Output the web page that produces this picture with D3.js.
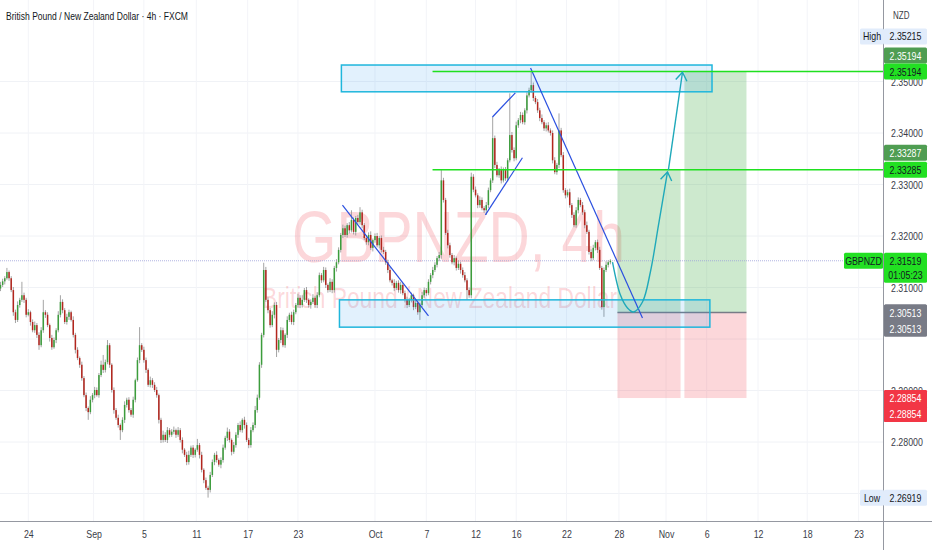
<!DOCTYPE html>
<html>
<head>
<meta charset="utf-8">
<script src="https://cdn.jsdelivr.net/npm/d3@7"></script>
<style>
  html, body { margin: 0; padding: 0; background: #fff; }
  svg { display: block; }
  text { font-family: "Liberation Sans", Arial, sans-serif; }
</style>
</head>
<body>
<div class="canvas"></div>
<script>
// ---- data (4h bars) ----
const firstOpen = 2.3098;
const closes = [
  2.3105,2.3112,2.3118,2.3130,2.3118,2.3095,2.3052,2.3037,2.3066,2.3076,
  2.3085,2.3076,2.3047,2.3052,2.3033,2.3017,2.3027,2.3008,2.2988,2.3017,
  2.3052,2.3047,2.3027,2.3002,2.2984,2.2998,2.3017,2.3047,2.3072,2.3056,
  2.3033,2.3043,2.3052,2.3037,2.3008,2.2979,2.2963,2.2950,2.2924,2.2891,
  2.2866,2.2858,2.2882,2.2891,2.2901,2.2891,2.2930,2.2950,2.2940,2.2955,
  2.2988,2.2950,2.2901,2.2862,2.2847,2.2833,2.2823,2.2843,2.2872,2.2882,
  2.2862,2.2853,2.2882,2.2920,2.2959,2.2988,2.2979,2.2959,2.2940,2.2911,
  2.2920,2.2911,2.2901,2.2891,2.2843,2.2804,2.2814,2.2804,2.2823,2.2814,
  2.2820,2.2823,2.2814,2.2823,2.2804,2.2785,2.2775,2.2761,2.2775,2.2789,
  2.2775,2.2785,2.2794,2.2775,2.2746,2.2726,2.2711,2.2707,2.2736,2.2761,
  2.2775,2.2765,2.2756,2.2765,2.2789,2.2808,2.2820,2.2804,2.2781,2.2794,
  2.2814,2.2833,2.2823,2.2843,2.2833,2.2804,2.2794,2.2823,2.2833,2.2862,
  2.2886,2.2950,2.3008,2.3134,2.3076,2.3056,2.3027,2.3047,2.3066,2.2979,
  2.2998,2.3017,2.2988,2.3008,2.3037,2.3047,2.3033,2.3052,2.3066,2.3080,
  2.3066,2.3076,2.3095,2.3076,2.3066,2.3072,2.3080,2.3066,2.3085,2.3124,
  2.3114,2.3134,2.3105,2.3095,2.3111,2.3095,2.3138,2.3149,2.3173,2.3202,
  2.3215,2.3202,2.3221,2.3211,2.3231,2.3208,2.3235,2.3227,2.3246,2.3221,
  2.3196,2.3188,2.3202,2.3177,2.3192,2.3200,2.3182,2.3196,2.3173,2.3169,
  2.3149,2.3134,2.3114,2.3109,2.3099,2.3109,2.3095,2.3105,2.3089,2.3076,
  2.3066,2.3076,2.3085,2.3062,2.3070,2.3052,2.3066,2.3085,2.3095,2.3089,
  2.3111,2.3124,2.3134,2.3144,2.3157,2.3163,2.3308,2.3270,2.3206,2.3182,
  2.3163,2.3149,2.3157,2.3138,2.3146,2.3134,2.3124,2.3114,2.3095,2.3085,
  2.3315,2.3290,2.3279,2.3260,2.3270,2.3254,2.3250,2.3260,2.3289,2.3308,
  2.3390,2.3338,2.3318,2.3328,2.3308,2.3328,2.3312,2.3347,2.3396,2.3367,
  2.3351,2.3415,2.3425,2.3435,2.3421,2.3444,2.3473,2.3483,2.3493,2.3468,
  2.3460,2.3444,2.3429,2.3421,2.3409,2.3415,2.3405,2.3400,2.3347,2.3324,
  2.3338,2.3405,2.3357,2.3289,2.3279,2.3285,2.3260,2.3241,2.3221,2.3250,
  2.3270,2.3260,2.3246,2.3221,2.3208,2.3169,2.3157,2.3177,2.3188,2.3173,
  2.3138,2.3062,2.3134,2.3144,2.3149,2.3152
];
// wick lengths above / below the body, in pips
const wickHi = [
  6,5,4,8,3,4,6,5,7,4, 26,5,4,6,3,5,7,4,5,6, 24,4,5,3,6,5,4,7,13,5,
  4,6,5,3,7,4,5,3,6,4, 5,3,7,4,6,5,4,8,19,5, 10,4,3,5,4,6,3,5,7,4,
  5,4,6,3,5,35,4,6,5,3, 7,4,5,6,3,4,8,5,6,4, 5,7,3,6,4,5,3,6,8,4,
  5,3,12,4,6,3,5,4,6,5, 4,7,3,5,6,4,8,5,3,6, 5,4,7,3,6,5,4,6,5,8,
  6,5,4,14,6,5,4,7,5,6, 4,6,5,3,7,4,6,5,4,8, 5,9,4,6,3,5,7,4,6,5,
  4,6,5,3,7,5,4,6,5,4, 7,5,4,6,19,5,4,6,10,5, 4,6,5,7,3,5,6,4,5,6,
  4,5,6,3,7,4,5,6,4,5, 6,4,5,3,7,5,4,6,5,4, 5,4,6,5,4,6,20,5,4,6,
  5,4,6,3,7,4,5,6,4,5, 8,5,6,4,7,5,4,6,5,4, 41,5,6,4,7,5,6,4,81,6,
  5,7,4,6,5,4,6,5,28,5, 4,6,5,7,4,5,6,4,5,6, 4,33,5,6,4,5,7,4,5,6,
  5,4,6,5,7,4,5,6,4,5, 6,4,5,7,4,3
];
const wickLo = [
  5,4,6,3,5,4,7,6,4,5, 4,6,5,3,7,4,5,6,9,4, 5,6,4,7,5,3,6,4,5,6,
  4,5,6,3,5,7,4,6,5,4, 6,15,4,5,6,3,5,4,6,5, 4,6,5,7,4,5,19,4,6,5,
  5,4,6,5,3,6,4,5,6,4, 5,6,4,5,7,6,5,4,6,5, 4,5,6,4,5,7,4,6,5,4,
  6,5,4,7,5,6,4,15,5,4, 6,5,4,7,5,4,6,5,7,4, 5,6,4,5,7,4,6,5,4,6,
  5,4,6,5,4,6,5,4,7,14, 5,6,4,5,6,4,5,6,4,5, 6,5,4,6,5,7,4,5,6,4,
  5,4,6,5,4,6,5,7,4,5, 6,4,5,6,4,5,7,4,5,6, 4,5,6,4,7,5,4,6,5,4,
  5,6,4,5,6,4,5,7,4,5, 6,4,5,6,4,5,15,4,5,6, 4,5,6,4,5,6,7,5,4,6,
  5,4,6,5,4,7,5,4,19,5, 6,5,4,6,5,4,5,9,6,4, 5,6,4,5,6,4,5,6,4,5,
  6,4,5,6,4,5,6,4,5,6, 4,5,6,4,5,6,4,5,6,4, 5,6,4,5,6,4,5,6,4,5,
  6,4,5,6,4,5,6,4,5,6, 4,5,19,4,5,4
];

// 2.27000 and 2.30000 sit under the Low / entry tags, so they are not written
const priceTicks = [2.28, 2.29, 2.31, 2.32, 2.33, 2.34, 2.35];
const gridTicks = [2.27, 2.28, 2.29, 2.30, 2.31, 2.32, 2.33, 2.34, 2.35];
const timeLabels = ["24","Sep","5","11","17","23","Oct","7","12","16","22","28","Nov","6","12","18","23"];
const timeBars   = [13, 43.5, 67, 91.5, 115.5, 139, 175, 199, 222, 241, 264.5, 289, 311, 330, 354, 377, 401];

// drawings, in bar index / price
const zones = [
  { b0: 159.3, b1: 332.5, top: 2.3532, bottom: 2.3480 },
  { b0: 158.4, b1: 331.5, top: 2.3076, bottom: 2.3023 }
];
const levelStart = 201.9;
const levels = [2.35194, 2.33285];
const trendLines = [
  [159.8, 2.3260, 200.0, 2.3045],
  [247.7, 2.3526, 300.0, 2.3041],
  [229.9, 2.3431, 240.6, 2.3478],
  [226.6, 2.3241, 243.9, 2.3352]
];
const entryPrice = 2.30513, stopPrice = 2.28854;
const positionCols = [
  { b0: 288.3, b1: 317.8, target: 2.33285 },
  { b0: 319.6, b1: 348.6, target: 2.35194 }
];
const pathBars   = [286.0, 289.7, 293.0, 295.8, 300.0, 303.7, 307.5, 311.7];
const pathPrices = [2.31495, 2.30854, 2.30602, 2.30524, 2.30718, 2.31301, 2.32214, 2.33243];
const arrow2 = [312.1, 2.3328, 318.7, 2.3518];

const lastPrice = 2.31519;
const highPrice = 2.35215, lowPrice = 2.26919;

// ---- layout ----
const W = 932, H = 550;
const plotRight = 883, plotBottom = 521;
const green = "#3c9d3c", red = "#b3261e", wick = "#9a9a9a";

// squeeze a text horizontally (the chart uses a condensed face)
function narrow(sel, f) {
  sel.each(function () {
    const w = this.getComputedTextLength();
    d3.select(this).attr("textLength", w * f).attr("lengthAdjust", "spacingAndGlyphs");
  });
}

const svg = d3.select(".canvas").append("svg").attr("width", W).attr("height", H);
svg.append("rect").attr("width", W).attr("height", H).attr("fill", "#fff");

const x = d3.scaleLinear().domain([0, 411]).range([0.5, 880]);
const y = d3.scaleLinear().domain([2.27, 2.35]).range([493.5, 81.5]);

const bars = closes.map((c, i) => {
  const o = i === 0 ? firstOpen : closes[i - 1];
  return {
    i, o, c,
    h: Math.max(o, c) + wickHi[i] / 10000,
    l: Math.min(o, c) - wickLo[i] / 10000
  };
});

svg.append("clipPath").attr("id", "plot")
  .append("rect").attr("width", plotRight).attr("height", plotBottom);

const chart = svg.append("g").attr("clip-path", "url(#plot)");

// grid
chart.selectAll(".hgrid").data(gridTicks).enter().append("line")
  .attr("x1", 0).attr("x2", plotRight)
  .attr("y1", d => y(d)).attr("y2", d => y(d))
  .attr("stroke", "#f0f2f6");
chart.selectAll(".vgrid").data(timeBars).enter().append("line")
  .attr("x1", d => x(d)).attr("x2", d => x(d))
  .attr("y1", 0).attr("y2", plotBottom)
  .attr("stroke", "#f3f4f8");

// watermark
chart.append("text").attr("x", 292).attr("y", 262)
  .attr("font-size", 72).attr("fill", "#f23645").attr("fill-opacity", 0.2)
  .attr("textLength", 333).attr("lengthAdjust", "spacingAndGlyphs")
  .text("GBPNZD, 4h");
chart.append("text").attr("x", 262).attr("y", 308)
  .attr("font-size", 29).attr("fill", "#f23645").attr("fill-opacity", 0.2)
  .attr("textLength", 355).attr("lengthAdjust", "spacingAndGlyphs")
  .text("British Pound / New Zealand Dollar");

// long position tool
positionCols.forEach(col => {
  chart.append("rect")
    .attr("x", x(col.b0)).attr("width", x(col.b1) - x(col.b0))
    .attr("y", y(col.target)).attr("height", y(entryPrice) - y(col.target))
    .attr("fill", "#4caf50").attr("fill-opacity", 0.28);
  chart.append("rect")
    .attr("x", x(col.b0)).attr("width", x(col.b1) - x(col.b0))
    .attr("y", y(entryPrice)).attr("height", y(stopPrice) - y(entryPrice))
    .attr("fill", "#f23645").attr("fill-opacity", 0.2);
});
chart.append("line")
  .attr("x1", x(positionCols[0].b0)).attr("x2", x(positionCols[1].b1))
  .attr("y1", y(entryPrice)).attr("y2", y(entryPrice))
  .attr("stroke", "#787b86").attr("stroke-width", 1.5);

// last price line
chart.append("line")
  .attr("x1", 0).attr("x2", plotRight)
  .attr("y1", y(lastPrice)).attr("y2", y(lastPrice))
  .attr("stroke", "#9c9fd8").attr("stroke-opacity", 0.8)
  .attr("stroke-dasharray", "1,1");

// candles
const candles = chart.append("g");
candles.selectAll(".wick").data(bars).enter().append("line")
  .attr("x1", d => x(d.i)).attr("x2", d => x(d.i))
  .attr("y1", d => y(d.h)).attr("y2", d => y(d.l))
  .attr("stroke", wick).attr("stroke-width", 0.9);
candles.selectAll(".body").data(bars).enter().append("rect")
  .attr("x", d => x(d.i) - 0.75).attr("width", 1.5)
  .attr("y", d => y(Math.max(d.o, d.c)))
  .attr("height", d => Math.max(1, Math.abs(y(d.o) - y(d.c))))
  .attr("fill", d => d.c >= d.o ? green : red);

// zones
chart.selectAll(".zone").data(zones).enter().append("rect")
  .attr("x", d => x(d.b0)).attr("width", d => x(d.b1) - x(d.b0))
  .attr("y", d => y(d.top)).attr("height", d => y(d.bottom) - y(d.top))
  .attr("fill", "#2196f3").attr("fill-opacity", 0.13)
  .attr("stroke", "#1fb6dc").attr("stroke-width", 1.5);

// trend lines
chart.selectAll(".trend").data(trendLines).enter().append("line")
  .attr("x1", d => x(d[0])).attr("y1", d => y(d[1]))
  .attr("x2", d => x(d[2])).attr("y2", d => y(d[3]))
  .attr("stroke", "#2a4fe0").attr("stroke-width", 1.2);

// target levels
chart.selectAll(".level").data(levels).enter().append("line")
  .attr("x1", x(levelStart)).attr("x2", plotRight)
  .attr("y1", d => y(d)).attr("y2", d => y(d))
  .attr("stroke", "#1fe01f").attr("stroke-width", 1.6);

// projected path with arrows
const teal = "#1fa9ba";
const pts = pathBars.map((b, i) => [x(b), y(pathPrices[i])]);
chart.append("path")
  .attr("d", d3.line().curve(d3.curveCatmullRom)(pts))
  .attr("fill", "none").attr("stroke", teal).attr("stroke-width", 1.4);
const a2 = [[x(arrow2[0]), y(arrow2[1])], [x(arrow2[2]), y(arrow2[3])]];
chart.append("line")
  .attr("x1", a2[0][0]).attr("y1", a2[0][1]).attr("x2", a2[1][0]).attr("y2", a2[1][1])
  .attr("stroke", teal).attr("stroke-width", 1.4);

function arrowHead(from, to) {
  const ang = Math.atan2(to[1] - from[1], to[0] - from[0]);
  const len = 10, spread = 0.6;
  const p1 = [to[0] - len * Math.cos(ang - spread), to[1] - len * Math.sin(ang - spread)];
  const p2 = [to[0] - len * Math.cos(ang + spread), to[1] - len * Math.sin(ang + spread)];
  chart.append("path")
    .attr("d", `M${p1}L${to}L${p2}`)
    .attr("fill", "none").attr("stroke", teal).attr("stroke-width", 1.4);
}
arrowHead(pts[pts.length - 2], pts[pts.length - 1]);
arrowHead(a2[0], a2[1]);

// ---- axes ----
const yAxisG = svg.append("g").attr("transform", `translate(${plotRight},0)`)
  .call(d3.axisRight(y).tickValues(priceTicks).tickFormat(d3.format(".5f")).tickSize(0).tickPadding(8));
yAxisG.select(".domain").remove();
yAxisG.selectAll("text").attr("font-size", 11).attr("fill", "#3a3d48")
  .style("font-family", "'Liberation Sans', sans-serif").call(narrow, 0.8);

const xAxisG = svg.append("g").attr("transform", `translate(0,${plotBottom})`)
  .call(d3.axisBottom(x).tickValues(timeBars).tickFormat((d, i) => timeLabels[i]).tickSize(0).tickPadding(9));
xAxisG.select(".domain").remove();
xAxisG.selectAll("text").attr("font-size", 11).attr("fill", "#3a3d48")
  .style("font-family", "'Liberation Sans', sans-serif").call(narrow, 0.8);

svg.append("line").attr("x1", 0).attr("x2", W).attr("y1", plotBottom + 0.5).attr("y2", plotBottom + 0.5)
  .attr("stroke", "#9598a1");
svg.append("line").attr("x1", plotRight + 0.5).attr("x2", plotRight + 0.5).attr("y1", 0).attr("y2", H)
  .attr("stroke", "#9598a1");

svg.append("text").attr("x", 893).attr("y", 19).attr("font-size", 10).attr("fill", "#3a3d48")
  .text("NZD").call(narrow, 0.8);

// price tags
function tag(yc, txt, bg, fg, x0 = 884, w = 43, h = 16) {
  svg.append("rect").attr("x", x0).attr("y", yc - h / 2).attr("width", w).attr("height", h)
    .attr("rx", 1.5).attr("fill", bg);
  svg.append("text").attr("x", x0 + w / 2).attr("y", yc + 4).attr("text-anchor", "middle")
    .attr("font-size", 11).attr("fill", fg).text(txt).call(narrow, 0.8);
}
const fmt = d3.format(".5f");
const bright = "#22e022", dark = "#4f9d52";

tag(y(highPrice) - 34, "High", "#e1ecfb", "#131722", 860, 24);
tag(y(highPrice) - 34, fmt(highPrice), "#e1ecfb", "#131722");
tag(y(levels[0]) - 16, fmt(2.35194), dark, "#fff");
tag(y(levels[0]), fmt(levels[0]), bright, "#131722");
tag(y(levels[1]) - 17, fmt(2.33287), dark, "#fff");
tag(y(levels[1]), fmt(levels[1]), bright, "#131722");

tag(y(lastPrice), "GBPNZD", bright, "#131722", 844, 39);
svg.append("rect").attr("x", 884).attr("y", y(lastPrice) - 8).attr("width", 43).attr("height", 30)
  .attr("rx", 1.5).attr("fill", bright);
svg.append("text").attr("x", 905.5).attr("y", y(lastPrice) + 4).attr("text-anchor", "middle")
  .attr("font-size", 11).attr("fill", "#131722").text(fmt(lastPrice)).call(narrow, 0.8);
svg.append("text").attr("x", 905.5).attr("y", y(lastPrice) + 18).attr("text-anchor", "middle")
  .attr("font-size", 11).attr("fill", "#131722").text("01:05:23").call(narrow, 0.8);

svg.append("rect").attr("x", 884).attr("y", y(entryPrice) - 8).attr("width", 43).attr("height", 32)
  .attr("rx", 1.5).attr("fill", "#787b86");
tag(y(entryPrice), fmt(entryPrice), "#787b86", "#fff");
tag(y(entryPrice) + 16, fmt(entryPrice), "#787b86", "#fff");

svg.append("rect").attr("x", 884).attr("y", y(stopPrice) - 8).attr("width", 43).attr("height", 32)
  .attr("rx", 1.5).attr("fill", "#f23645");
tag(y(stopPrice), fmt(stopPrice), "#f23645", "#fff");
tag(y(stopPrice) + 16, fmt(stopPrice), "#f23645", "#fff");

tag(y(lowPrice), "Low", "#e1ecfb", "#131722", 860, 24);
tag(y(lowPrice), fmt(lowPrice), "#e1ecfb", "#131722");

// title
svg.append("text").attr("x", 6).attr("y", 20).attr("font-size", 11).attr("fill", "#131722")
  .attr("textLength", 182).attr("lengthAdjust", "spacingAndGlyphs")
  .text("British Pound / New Zealand Dollar · 4h · FXCM");
</script>
</body>
</html>
